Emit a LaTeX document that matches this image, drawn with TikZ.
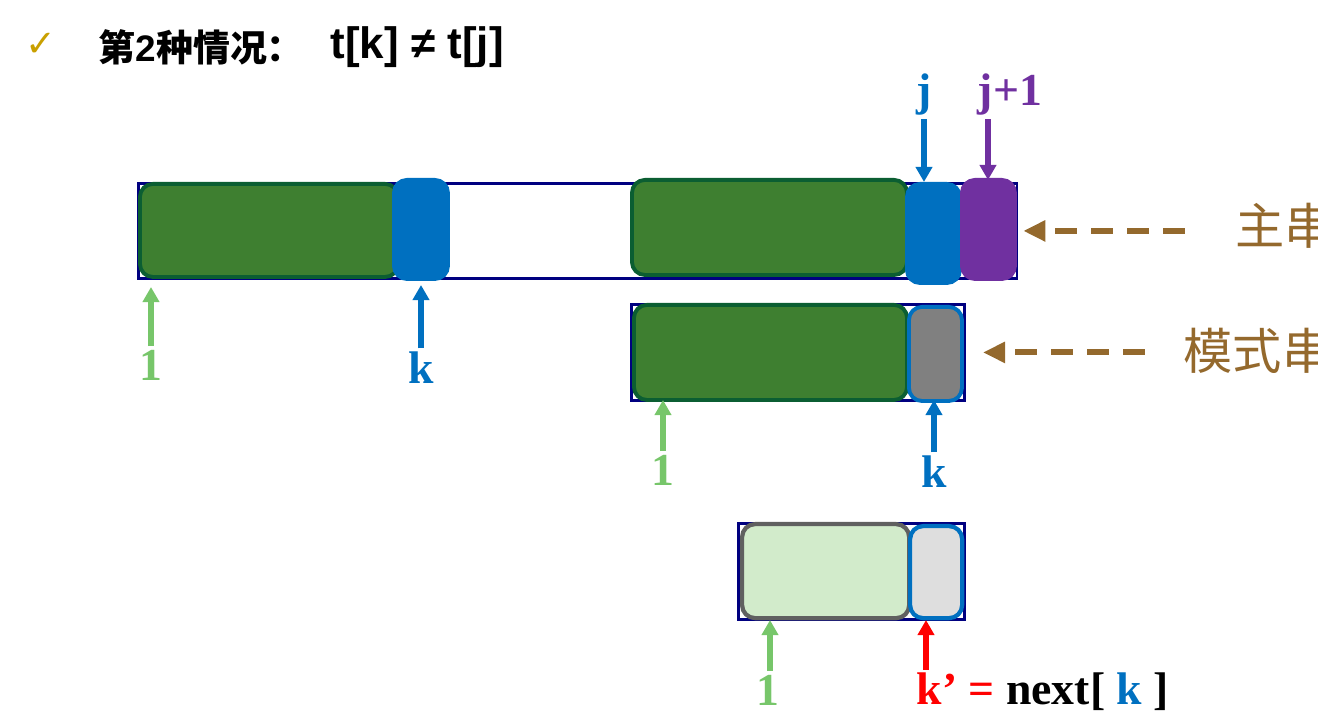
\documentclass[tikz,border=0pt]{standalone}
\usepackage{fontspec}
\setmainfont{Liberation Serif}
\setsansfont{Liberation Sans}
\newfontfamily\cjk{Noto Sans CJK SC}
\newfontfamily\symfont{DejaVu Sans}
\usepackage{xcolor}
\usepackage{tikz}
\usetikzlibrary{arrows.meta,positioning}

\definecolor{boxnavy}{HTML}{000080}
\definecolor{dkgreen}{HTML}{3E7F30}
\definecolor{edgegreen}{HTML}{0B5E32}
\definecolor{cellblue}{HTML}{0070C0}
\definecolor{cellpurple}{HTML}{7030A0}
\definecolor{cellgrey}{HTML}{808080}
\definecolor{lightgreen}{HTML}{D2EBCB}
\definecolor{lightgrey}{HTML}{DEDEDE}
\definecolor{edgegrey}{HTML}{606060}
\definecolor{idxgreen}{HTML}{77C66A}
\definecolor{hintbrown}{HTML}{94692D}
\definecolor{checkgold}{HTML}{C9A000}

\begin{document}
\begin{tikzpicture}[x=0.01cm, y=-0.01cm,
  outline/.style={draw=boxnavy, line width=0.8pt, inner sep=0pt, anchor=north west},
  cell/.style={rounded corners=0.13cm, line width=1.1pt, inner sep=0pt, anchor=north west},
  gcell/.style={cell, fill=dkgreen, draw=edgegreen},
  bcell/.style={cell, fill=cellblue, draw=cellblue},
  pcell/.style={cell, fill=cellpurple, draw=cellpurple},
  greycell/.style={cell, fill=cellgrey, draw=cellblue},
  lgcell/.style={cell, fill=lightgreen, draw=edgegrey, line width=1.2pt},
  lgreycell/.style={cell, fill=lightgrey, draw=cellblue, line width=1.2pt},
  idx/.style={font=\fontsize{13}{15}\selectfont\bfseries, inner sep=0.03cm},
  ptr/.style={-{Triangle[length=0.15cm,width=0.16cm]}, line width=1.5pt},
  hint/.style={hintbrown, line width=1.7pt, dash pattern=on 0.22cm off 0.14cm,
    -{Triangle[length=0.22cm,width=0.2cm]}},
  hintlbl/.style={text=hintbrown, font=\cjk\fontsize{14}{16}\selectfont, anchor=west, inner sep=0pt}]
\useasboundingbox (0,0) rectangle (1318,725);

% title
\node (tick) at (41,45) {\symfont\color{checkgold}\fontsize{10.5}{10}\selectfont ✓};
\node[anchor=west, inner sep=0pt] (title) at (98,47) {\cjk\bfseries\fontsize{10.5}{13}\selectfont 第{\sffamily 2}种情况：};
\node[anchor=west, inner sep=0pt, font=\sffamily\bfseries\fontsize{12.5}{14}\selectfont] (cond) at (330,47) {t[k] ≠ t[j]};

% outlines
\node[outline, minimum width=8.78cm, minimum height=0.95cm] (mainbox) at (137,182) {};
\node[outline, minimum width=3.33cm, minimum height=0.96cm] (patbox) at (630,303) {};
\node[outline, minimum width=2.26cm, minimum height=0.96cm] (nxtbox) at (737,522) {};

% cells
\foreach \nm/\st/\cx/\cy/\cw/\ch in {
  mg1/gcell/138/182/2.58/0.93, mk/bcell/392/178/0.54/0.99,
  mg2/gcell/630/178/2.75/0.95, mj/bcell/905/182/0.53/0.99,
  mjp/pcell/960/178/0.53/0.99,
  pg/gcell/632/303/2.73/0.95, pk/greycell/907/305/0.53/0.94,
  ng/lgcell/740/522/1.67/0.94, nk/lgreycell/908/524/0.52/0.92}
  \node[\st, minimum width=\cw cm, minimum height=\ch cm] (\nm) at (\cx,\cy) {};

% pointers
\node[idx, text=idxgreen] (one1) at (151,365) {1};
\coordinate (one1tip) at (151,287);
\draw[ptr, idxgreen] (one1) -- (one1tip);
\node[idx, text=cellblue] (k1) at (421,368) {k};
\coordinate (k1tip) at (421,285);
\draw[ptr, cellblue] (k1) -- (k1tip);

\node[idx, text=cellblue] (jl) at (924,95) {j};
\coordinate (jtip) at (924,182);
\draw[ptr, cellblue] (jl) -- (jtip);
\node[idx, text=cellpurple] (jp1) at (1010,95) {j+1};
\coordinate (jp1tip) at (988,180);
\draw[ptr, cellpurple] (jp1tip |- jp1.south) -- (jp1tip);

\node[idx, text=idxgreen] (one2) at (663,470) {1};
\coordinate (one2tip) at (663,400);
\draw[ptr, idxgreen] (one2) -- (one2tip);
\node[idx, text=cellblue] (k2) at (934,472) {k};
\coordinate (k2tip) at (934,400);
\draw[ptr, cellblue] (k2) -- (k2tip);

\node[idx, text=idxgreen] (one3) at (768,690) {1};
\coordinate (one3tip) at (770,620);
\draw[ptr, idxgreen] (one3tip |- one3.north) -- (one3tip);
\node[idx, anchor=base west] (nextk) at (913,705) {\color{red}k’ = \color{black}next[ \color{cellblue}k \color{black}]};
\coordinate (nktip) at (926,620);
\draw[ptr, red] (nktip |- nextk.north) -- (nktip);

% hints
\node[hintlbl] (mainlbl) at (1235,226) {主串};
\draw[hint] ([xshift=-0.5cm]mainbox.east -| mainlbl.west) -- ([xshift=0.05cm]mainbox.east);
\node[hintlbl] (patlbl) at (1183,351) {模式串};
\draw[hint] ([xshift=-0.38cm]patbox.east -| patlbl.west) -- ([xshift=0.17cm]patbox.east);
\end{tikzpicture}
\end{document}
